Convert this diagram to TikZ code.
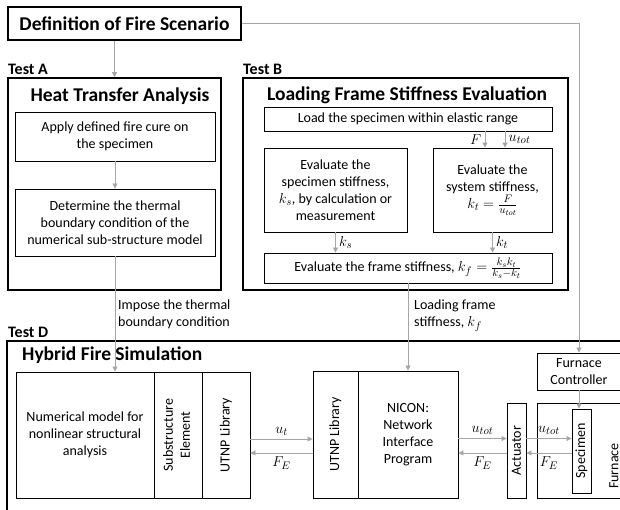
\documentclass[tikz,border=0pt]{standalone}
\usepackage{fontspec}
\usepackage{graphicx}
\setmainfont{Carlito}
\DeclareMathSizes{14}{14}{10.5}{8}
\usetikzlibrary{arrows.meta,calc}
\definecolor{flowgray}{HTML}{A6A6A6}
\tikzset{
  blk/.style={draw, line width=0.9pt, inner sep=0pt, align=center, font=\fontsize{14}{17}\selectfont},
  outer/.style={draw, line width=1.6pt, inner sep=0pt, align=center},
  ttl/.style={inner sep=0pt, font=\bfseries\fontsize{19.5}{23}\selectfont},
  tst/.style={anchor=base west, inner sep=0pt, font=\bfseries\fontsize{16}{19}\selectfont},
  lbl/.style={inner sep=0pt, align=left, font=\fontsize{14}{17}\selectfont},
  flow/.style={draw=flowgray, line width=0.8pt, -{Triangle[length=5pt,width=5pt]},
    font=\fontsize{14}{17}\selectfont},
}
\begin{document}
\begin{tikzpicture}[x=1pt, y=-1pt]
  \clip (0,0) rectangle (620,510);
  \node[outer, minimum width=233pt, minimum height=33pt, font=\bfseries\fontsize{19.5}{23}\selectfont] (fire) at (124.5,23.5) {Definition of Fire Scenario};

  % test A
  \node[tst] (labA) at (8,75) {Test A};
  \node[outer, minimum width=213pt, minimum height=212pt] (testA) at (114.5,184) {};
  \node[ttl, anchor=base] (heat) at (120,102) {Heat Transfer Analysis};
  \node[blk, minimum width=200pt, minimum height=49pt] (apply) at (115,136.5) {Apply defined fire cure on\\the specimen};
  \node[blk, minimum width=200pt, minimum height=67pt] (bound) at (115,222.5) {Determine the thermal\\boundary condition of the\\numerical sub-structure model};
  \draw[flow] (testA.north |- fire.south) -- (testA.north);
  \draw[flow] (apply) -- (bound);

  % test B
  \node[tst] (labB) at (243,75) {Test B};
  \node[outer, minimum width=325pt, minimum height=212pt] (testB) at (405.5,184) {};
  \node[ttl, anchor=base] (stiff) at (407,101) {Loading Frame Stiffness Evaluation};
  \node[blk, minimum width=288pt, minimum height=24pt] (load) at (408,119) {Load the specimen within elastic range};
  \node[blk, minimum width=143pt, minimum height=84pt] (spec) at (335.5,190) {Evaluate the\\specimen stiffness,\\$k_s$, by calculation or\\measurement};
  \node[blk, minimum width=119pt, minimum height=84pt] (sys) at (492.5,190) {Evaluate the\\system stiffness,\\$k_t = \frac{F}{u_{tot}}$};
  \node[blk, minimum width=288pt, minimum height=30pt] (kfbox) at (408,268) {Evaluate the frame stiffness, $k_f = \frac{k_s k_t}{k_s - k_t}$};
  \draw[flow] ([xshift=-7.5pt]sys.north |- load.south) -- ([xshift=-7.5pt]sys.north) node[midway, left] {$F$};
  \draw[flow] ([xshift=12.5pt]sys.north |- load.south) -- ([xshift=12.5pt]sys.north) node[midway, right] {$u_{tot}$};
  \draw[flow] (spec.south) -- (spec.south |- kfbox.north) node[midway, right] {$k_s$};
  \draw[flow] (sys.south) -- (sys.south |- kfbox.north) node[midway, right] {$k_t$};

  % test D
  \node[tst] (labD) at (8,337) {Test D};
  \node[outer, minimum width=643pt, minimum height=169.5pt] (testD) at (328.5,425.75) {};
  \node[ttl, anchor=base west] (hybrid) at (22,360) {Hybrid Fire Simulation};
  \node[blk, minimum width=138pt, minimum height=126pt] (num) at (85,435) {Numerical model for\\nonlinear structural\\analysis};
  \node[blk, minimum width=48pt, minimum height=126pt] (sub) at (178,435) {\rotatebox{90}{\begin{tabular}{@{}c@{}}Substructure\\Element\end{tabular}}};
  \node[blk, minimum width=48pt, minimum height=126pt] (utnpA) at (226,435) {\rotatebox{90}{UTNP Library}};
  \node[blk, minimum width=45pt, minimum height=127pt] (utnpB) at (335.5,434.5) {\rotatebox{90}{UTNP Library}};
  \node[blk, minimum width=100pt, minimum height=127pt] (nicon) at (408,434.5) {NICON:\\Network\\Interface\\Program};
  \node[blk, minimum width=19pt, minimum height=95pt] (act) at (516.5,450.5) {\rotatebox{90}{Actuator}};
  \node[blk, minimum width=84pt, minimum height=37pt] (ctrl) at (579,371.5) {Furnace\\Controller};
  \node[blk, minimum width=123pt, minimum height=95pt] (furn) at (598.5,450.5) {};
  \node[lbl, rotate=90] (furnT) at (614,466) {Furnace};
  \node[blk, minimum width=19pt, minimum height=84pt, fill=white] (smp) at (581.5,451) {\rotatebox{90}{Specimen}};

  \draw[flow] (bound.south) -- (bound.south |- num.north);
  \node[lbl, anchor=north west] (impose) at (118,300) {Impose the thermal\\boundary condition};
  \draw[flow] (kfbox.south) -- (kfbox.south |- nicon.north);
  \node[lbl, anchor=north west] (kfT) at (414,300) {Loading frame\\stiffness, $k_f$};
  \draw[flow] (fire.east) -| (ctrl.north);
  \draw[flow] (ctrl.south) -- (ctrl.south |- smp.north);

  \draw[flow] ([yshift=-4pt]utnpA.east) -- ([yshift=-4pt]utnpA.east -| utnpB.west) node[midway, above] {$u_t$};
  \draw[flow] ([yshift=-18pt]utnpA.east -| utnpB.west) -- ([yshift=-18pt]utnpA.east) node[midway, below] {$F_E$};
  \draw[flow] ([yshift=-4pt]nicon.east) -- ([yshift=-4pt]nicon.east -| act.west) node[midway, above] {$u_{tot}$};
  \draw[flow] ([yshift=-18.5pt]nicon.east -| act.west) -- ([yshift=-18.5pt]nicon.east) node[midway, below] {$F_E$};
  \draw[flow] ([yshift=-4pt]nicon.east -| act.east) -- ([yshift=-4pt]nicon.east -| smp.west) node[midway, above] {$u_{tot}$};
  \draw[flow] ([yshift=-18.5pt]nicon.east -| smp.west) -- ([yshift=-18.5pt]nicon.east -| act.east) node[midway, below] {$F_E$};
\end{tikzpicture}
\end{document}
